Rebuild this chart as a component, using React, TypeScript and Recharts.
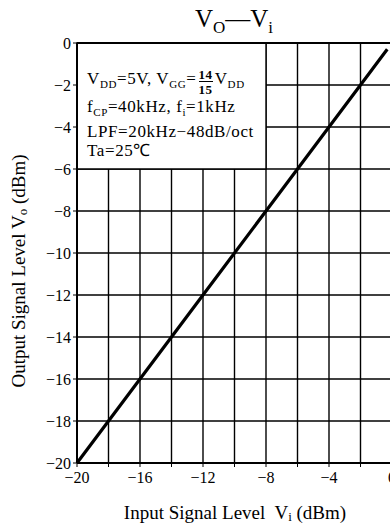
import React from 'react'
import {
  LineChart,
  Line,
  XAxis,
  YAxis,
  CartesianGrid,
  ReferenceArea,
  ReferenceLine,
} from 'recharts'

// Vi -> Vo (dBm)
const inputLevels = [-20, -16, -12, -8, -4, -0.3]
const outputLevels = [-20, -16, -12, -8, -4, -0.3]

const xTicks = [-20, -18, -16, -14, -12, -10, -8, -6, -4, -2, 0]
const yTicks = [0, -2, -4, -6, -8, -10, -12, -14, -16, -18, -20]

const SERIF = '"Liberation Serif", "Times New Roman", serif'

const data = inputLevels.map((vi, i) => ({ vi, vo: outputLevels[i] }))

const minus = (v: number) => (v < 0 ? `\u2212${Math.abs(v)}` : `${v}`)

// rotated y axis title, placed where the reference has it
function YTitle() {
  return (
    <text
      x={18}
      y={271}
      transform="rotate(-90 18 271)"
      textAnchor="middle"
      dominantBaseline="central"
      fill="#000"
      fontSize={19}
      fontFamily={SERIF}
    >
      Output Signal Level V
      <tspan fontSize={13} dy={4}>o</tspan>
      <tspan dy={-4}> (dBm)</tspan>
    </text>
  )
}

function XTitle() {
  return (
    <text
      x={235}
      y={512}
      textAnchor="middle"
      dominantBaseline="central"
      fill="#000"
      fontSize={19}
      fontFamily={SERIF}
      style={{ whiteSpace: 'pre' }}
    >
      {'Input Signal Level  V'}
      <tspan fontSize={13} dy={4}>i</tspan>
      <tspan dy={-4}> (dBm)</tspan>
    </text>
  )
}

function Conditions() {
  const sub = { fontSize: 11, verticalAlign: 'sub' } as React.CSSProperties
  return (
    <div
      style={{
        position: 'absolute',
        left: 87,
        top: 67,
        fontFamily: SERIF,
        fontSize: 17,
        letterSpacing: 0.6,
        lineHeight: '19px',
        color: '#000',
        whiteSpace: 'nowrap',
      }}
    >
      <div style={{ display: 'flex', alignItems: 'center', height: 30 }}>
        <span>V<span style={sub}>DD</span>=5V, V<span style={sub}>GG</span>=</span>
        <span
          style={{
            display: 'inline-flex',
            flexDirection: 'column',
            alignItems: 'center',
            fontSize: 13,
            lineHeight: '13px',
            margin: '0 2px',
            fontWeight: 'bold',
          }}
        >
          <span>14</span>
          <span style={{ borderTop: '1px solid #000', paddingTop: 1 }}>15</span>
        </span>
        <span>V<span style={sub}>DD</span></span>
      </div>
      <div>f<span style={sub}>CP</span>=40kHz, f<span style={sub}>i</span>=1kHz</div>
      <div>LPF=20kHz{'\u2212'}48dB/oct</div>
      <div>Ta=25℃</div>
    </div>
  )
}

export default function App() {
  return (
    <div
      style={{
        position: 'fixed',
        left: 0,
        top: 0,
        width: 390,
        height: 524,
        overflow: 'hidden',
        background: '#fff',
      }}
    >
      <div
        style={{
          position: 'absolute',
          left: 0,
          width: 468,
          top: 5,
          textAlign: 'center',
          fontFamily: SERIF,
          fontSize: 25,
        }}
      >
        V<span style={{ fontSize: 17, verticalAlign: 'sub' }}>O</span>
        {'\u2014'}V<span style={{ fontSize: 17, verticalAlign: 'sub' }}>i</span>
      </div>

      <LineChart
        width={400}
        height={524}
        data={data}
        margin={{ top: 43, right: 8, bottom: 0, left: 27 }}
        style={{ position: 'absolute', left: 0, top: 0 }}
      >
        <CartesianGrid stroke="#000" strokeWidth={1.4} />
        <ReferenceArea
          x1={-20}
          x2={-8}
          y1={-6}
          y2={0}
          fill="#fff"
          fillOpacity={1}
          stroke="#000"
          strokeWidth={1.4}
        />
        <ReferenceLine y={0} stroke="#000" strokeWidth={2} />
        <XAxis
          dataKey="vi"
          type="number"
          domain={[-20, 0]}
          ticks={xTicks}
          interval={0}
          height={61}
          tickSize={4}
          stroke="#000"
          axisLine={{ stroke: '#000', strokeWidth: 2 }}
          tick={{ fill: '#000', fontSize: 16, fontFamily: SERIF, dy: 3 }}
          tickFormatter={(v: number) => (v % 4 === 0 ? minus(v) : '')}
          label={<XTitle />}
        />
        <YAxis
          type="number"
          domain={[-20, 0]}
          ticks={yTicks}
          interval={0}
          width={50}
          tickSize={4}
          stroke="#000"
          axisLine={{ stroke: '#000', strokeWidth: 2 }}
          tick={{ fill: '#000', fontSize: 16, fontFamily: SERIF }}
          tickFormatter={minus}
          label={<YTitle />}
        />
        <Line
          type="linear"
          dataKey="vo"
          stroke="#000"
          strokeWidth={3.2}
          dot={false}
          isAnimationActive={false}
        />
      </LineChart>

      <Conditions />
    </div>
  )
}
